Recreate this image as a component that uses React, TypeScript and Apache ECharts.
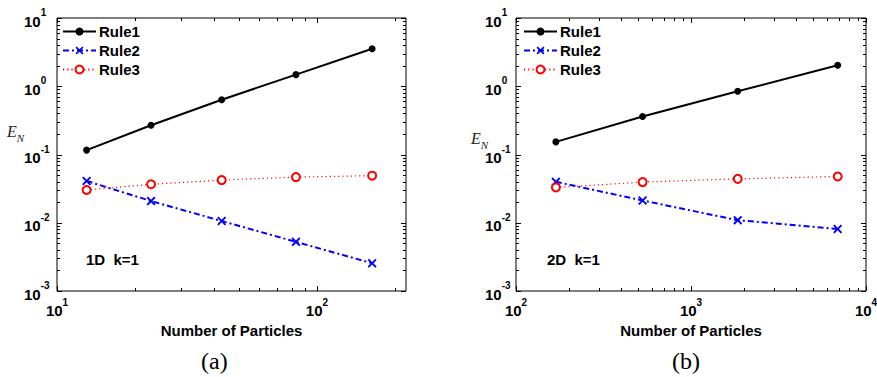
import React, { useEffect, useRef } from "react";
import * as echarts from "echarts";

// ---- data ----
const particles1D = [13, 23, 43, 83, 163];
const particles2D = [169, 529, 1849, 6889];
const rule1_1D = [0.116, 0.268, 0.635, 1.48, 3.55];
const rule2_1D = [0.0409, 0.0208, 0.0106, 0.00525, 0.00255];
const rule3_1D = [0.0302, 0.0366, 0.0422, 0.0467, 0.0489];
const rule1_2D = [0.153, 0.36, 0.845, 2.03];
const rule2_2D = [0.0398, 0.0212, 0.0109, 0.0081];
const rule3_2D = [0.0329, 0.0394, 0.044, 0.0476];
const seriesNames = ["Rule1", "Rule2", "Rule3"];

// axis ranges and ticks
const xRange1D = [10, 220];
const xRange2D = [100, 10000];
const yRange = [0.001, 10];
const xMajor1D = [10, 100];
const xMinor1D = [20, 30, 40, 50, 60, 70, 80, 90, 200];
const xMajor2D = [100, 1000, 10000];
const xMinor2D = [200, 300, 400, 500, 600, 700, 800, 900, 2000, 3000, 4000, 5000, 6000, 7000, 8000, 9000];
const yMajor = [0.001, 0.01, 0.1, 1, 10];
const yMinor = [
  0.002, 0.003, 0.004, 0.005, 0.006, 0.007, 0.008, 0.009,
  0.02, 0.03, 0.04, 0.05, 0.06, 0.07, 0.08, 0.09,
  0.2, 0.3, 0.4, 0.5, 0.6, 0.7, 0.8, 0.9,
  2, 3, 4, 5, 6, 7, 8, 9,
];

const FONT = "Liberation Sans, Arial, sans-serif";
const SERIF = "Liberation Serif, Times New Roman, serif";
const X_PATH = "path://M0,1.5 L1.5,0 L5,3.5 L8.5,0 L10,1.5 L6.5,5 L10,8.5 L8.5,10 L5,6.5 L1.5,10 L0,8.5 L3.5,5 Z";

const powLabel = (v: number) => {
  const e = Math.log10(v);
  const r = Math.round(e);
  if (Math.abs(e - r) > 1e-6) return "";
  return `{b|10}{s|${r}}`;
};

const richLabel = {
  b: { fontSize: 15, fontWeight: "bold", fontFamily: FONT, color: "#000", lineHeight: 21, verticalAlign: "bottom" },
  s: { fontSize: 10, fontWeight: "bold", fontFamily: FONT, color: "#000", lineHeight: 21, verticalAlign: "top" },
};

function makeSeries(gridIdx: number, xs: number[], r1: number[], r2: number[], r3: number[]) {
  const zip = (ys: number[]) => xs.map((x, i) => [x, ys[i]]);
  return [
    {
      name: "Rule1", type: "line", xAxisIndex: gridIdx, yAxisIndex: gridIdx,
      data: zip(r1), symbol: "circle", symbolSize: 7,
      lineStyle: { color: "#000", width: 2 }, itemStyle: { color: "#000" },
    },
    {
      name: "Rule2", type: "line", xAxisIndex: gridIdx, yAxisIndex: gridIdx,
      data: zip(r2), symbol: X_PATH, symbolSize: 9,
      lineStyle: { color: "#0000ff", width: 2, type: [6, 3, 2, 3] }, itemStyle: { color: "#0000ff" },
    },
    {
      name: "Rule3", type: "line", xAxisIndex: gridIdx, yAxisIndex: gridIdx,
      data: zip(r3), symbol: "emptyCircle", symbolSize: 8,
      lineStyle: { color: "#ff0000", width: 1.2, type: [1.2, 3] },
      itemStyle: { color: "#ff0000", borderColor: "#ff0000", borderWidth: 2.2 },
    },
  ];
}

function tickSeries(gridIdx: number, xr: number[], xMaj: number[], xMin: number[]) {
  const lineStyle = { stroke: "#000", lineWidth: 1 };
  return [
    {
      type: "custom", xAxisIndex: gridIdx, yAxisIndex: gridIdx, silent: true, z: 1,
      data: xMaj.map((v) => [v, yRange[0], 5]).concat(xMin.map((v) => [v, yRange[0], 3])),
      encode: { x: 0, y: 1 },
      renderItem: (_p: any, api: any) => {
        const v = api.value(0);
        const len = api.value(2);
        const b = api.coord([v, yRange[0]]);
        const t = api.coord([v, yRange[1]]);
        const x = Math.round(b[0]) + 0.5;
        return {
          type: "group",
          children: [
            { type: "line", shape: { x1: x, y1: b[1], x2: x, y2: b[1] - len }, style: lineStyle },
            { type: "line", shape: { x1: x, y1: t[1], x2: x, y2: t[1] + len }, style: lineStyle },
          ],
        };
      },
    },
    {
      type: "custom", xAxisIndex: gridIdx, yAxisIndex: gridIdx, silent: true, z: 1,
      data: yMajor.map((v) => [xr[0], v, 5]).concat(yMinor.map((v) => [xr[0], v, 3])),
      encode: { x: 0, y: 1 },
      renderItem: (_p: any, api: any) => {
        const v = api.value(1);
        const len = api.value(2);
        const l = api.coord([xr[0], v]);
        const r = api.coord([xr[1], v]);
        const y = Math.round(l[1]) + 0.5;
        return {
          type: "group",
          children: [
            { type: "line", shape: { x1: l[0], y1: y, x2: l[0] + len, y2: y }, style: lineStyle },
            { type: "line", shape: { x1: r[0], y1: y, x2: r[0] - len, y2: y }, style: lineStyle },
          ],
        };
      },
    },
  ];
}

function xAxis(gridIndex: number, range: number[]) {
  return {
    type: "log", gridIndex, min: range[0], max: range[1], logBase: 10,
    name: "Number of Particles", nameLocation: "middle", nameGap: 22,
    nameTextStyle: { fontSize: 15, fontWeight: "bold", fontFamily: FONT, color: "#000" },
    axisLine: { show: false }, axisTick: { show: false }, splitLine: { show: false },
    axisLabel: { formatter: powLabel, rich: richLabel, margin: 6, showMinLabel: true, showMaxLabel: true, hideOverlap: false },
  };
}

function yAxis(gridIndex: number, margin: number) {
  return {
    type: "log", gridIndex, min: yRange[0], max: yRange[1], logBase: 10,
    axisLine: { show: false }, axisTick: { show: false }, splitLine: { show: false },
    axisLabel: { formatter: powLabel, rich: richLabel, margin, align: "left", showMinLabel: true, showMaxLabel: true, hideOverlap: false },
  };
}

function legend(left: number) {
  return {
    data: seriesNames, orient: "vertical", left, top: 19, itemWidth: 33, itemHeight: 10, itemGap: 4,
    selectedMode: false,
    textStyle: { fontSize: 15, fontWeight: "bold", fontFamily: FONT, color: "#000", padding: [0, 0, 0, -2] },
  };
}

const enRich = {
  e: { fontFamily: SERIF, fontStyle: "italic", fontSize: 16, fill: "#222", lineHeight: 20, verticalAlign: "top" },
  n: { fontFamily: SERIF, fontStyle: "italic", fontSize: 11, fill: "#222", lineHeight: 20, verticalAlign: "bottom" },
};

export default function App() {
  const ref = useRef<HTMLDivElement>(null);
  useEffect(() => {
    document.body.style.margin = "0";
    const chart = echarts.init(ref.current!, null, { renderer: "svg" });
    chart.setOption({
      animation: false,
      backgroundColor: "#fff",
      grid: [
        { left: 57, top: 18, width: 349, height: 273, show: true, borderColor: "#000", borderWidth: 1, backgroundColor: "#fff", outerBoundsMode: "none", containLabel: false },
        { left: 516, top: 18, width: 350, height: 273, show: true, borderColor: "#000", borderWidth: 1, backgroundColor: "#fff", outerBoundsMode: "none", containLabel: false },
      ],
      xAxis: [xAxis(0, xRange1D), xAxis(1, xRange2D)],
      yAxis: [yAxis(0, 33), yAxis(1, 31)],
      legend: [legend(57), legend(518)],
      series: [
        ...tickSeries(0, xRange1D, xMajor1D, xMinor1D),
        ...tickSeries(1, xRange2D, xMajor2D, xMinor2D),
        ...makeSeries(0, particles1D, rule1_1D, rule2_1D, rule3_1D),
        ...makeSeries(1, particles2D, rule1_2D, rule2_2D, rule3_2D),
      ],
      graphic: [
        { type: "text", left: 86, top: 252, style: { text: "1D  k=1", font: `bold 15px ${FONT}`, fill: "#000" } },
        { type: "text", left: 547, top: 252, style: { text: "2D  k=1", font: `bold 15px ${FONT}`, fill: "#000" } },
        { type: "text", left: 7, top: 123, style: { text: "{e|E}{n|N}", rich: enRich } },
        { type: "text", left: 471, top: 130, style: { text: "{e|E}{n|N}", rich: enRich } },
        { type: "text", left: 201, top: 349, style: { text: "(a)", font: `24px ${SERIF}`, fill: "#000" } },
        { type: "text", left: 672, top: 349, style: { text: "(b)", font: `24px ${SERIF}`, fill: "#000" } },
      ],
    });
    return () => chart.dispose();
  }, []);
  return <div ref={ref} style={{ width: 877, height: 377 }} />;
}
